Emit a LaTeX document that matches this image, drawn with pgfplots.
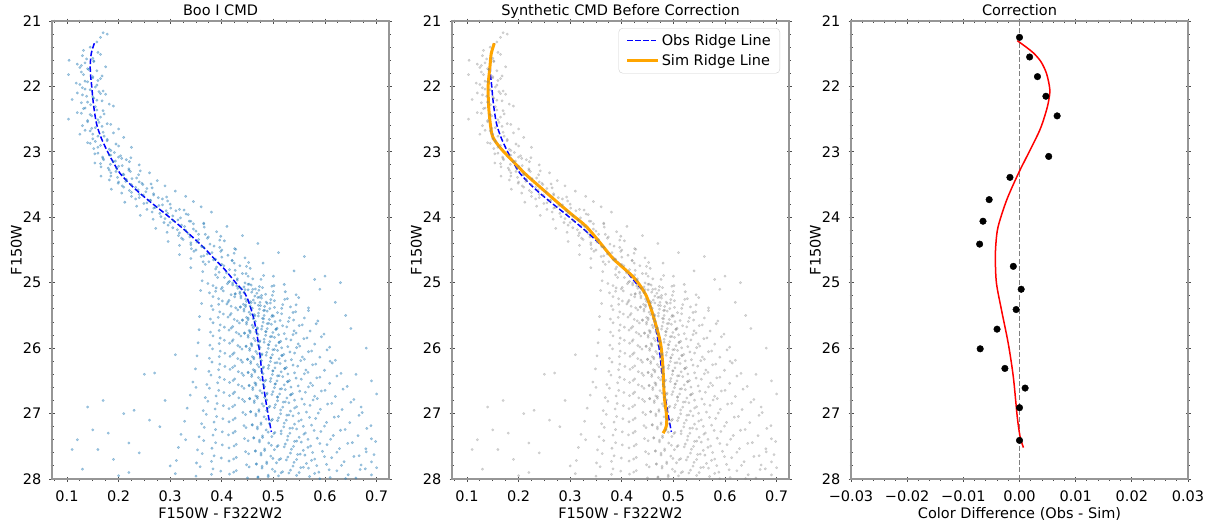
\documentclass[border=0pt]{standalone}
\usepackage{fontspec}
\setmainfont{DejaVu Sans}
\usepackage{pgfplots}
\usepackage{pgfplotstable}
\pgfplotsset{compat=1.18}
\definecolor{tabblue}{RGB}{31,119,180}
\definecolor{spine}{RGB}{150,150,150}
\definecolor{mplorange}{RGB}{255,165,0}

\pgfplotstableread{
x y
0.170 21.18
0.178 21.20
0.165 21.25
0.158 21.32
0.145 21.40
0.132 21.45
0.160 21.48
0.104 21.60
0.138 21.58
0.152 21.62
0.120 21.66
0.175 21.70
0.142 21.74
0.128 21.78
0.103 21.82
0.150 21.85
0.165 21.88
0.135 21.92
0.118 21.95
0.158 21.98
0.130 22.02
0.145 22.05
0.162 22.08
0.120 22.10
0.175 22.12
0.138 22.15
0.152 22.18
0.110 22.20
0.168 22.22
0.128 22.25
0.146 22.28
0.190 22.30
0.135 22.33
0.158 22.36
0.120 22.40
0.172 22.42
0.148 22.45
0.103 22.50
0.140 22.52
0.162 22.55
0.185 22.58
0.130 22.60
0.155 22.63
0.200 22.65
0.145 22.68
0.170 22.70
0.125 22.73
0.160 22.76
0.210 22.78
0.150 22.80
0.178 22.83
0.140 22.86
0.195 22.88
0.165 22.90
0.225 22.93
0.152 22.95
0.185 22.98
0.130 21.53
0.150 21.57
0.165 21.51
0.135 21.64
0.152 21.61
0.128 21.68
0.140 21.73
0.158 21.76
0.125 21.71
0.132 21.82
0.150 21.87
0.168 21.84
0.140 21.93
0.125 21.97
0.160 21.91
0.135 22.04
0.155 22.01
0.170 22.07
0.130 22.13
0.150 22.16
0.165 22.11
0.140 22.24
0.158 22.21
0.182 22.27
0.132 22.34
0.155 22.31
0.170 22.37
0.145 22.43
0.165 22.47
0.128 22.41
0.140 22.54
0.160 22.51
0.178 22.57
0.148 22.64
0.168 22.61
0.135 22.67
0.150 22.73
0.172 22.76
0.190 22.71
0.155 22.84
0.178 22.81
0.145 22.87
0.160 22.93
0.182 22.96
0.200 22.91
0.160 23.02
0.185 23.05
0.200 23.08
0.170 23.10
0.215 23.12
0.190 23.15
0.165 23.18
0.240 23.20
0.200 23.22
0.180 23.25
0.220 23.28
0.195 23.30
0.260 23.32
0.210 23.35
0.185 23.37
0.235 23.40
0.215 23.42
0.275 23.44
0.200 23.46
0.245 23.48
0.225 23.50
0.290 23.52
0.210 23.54
0.255 23.56
0.238 23.58
0.310 23.60
0.225 23.62
0.268 23.64
0.248 23.66
0.330 23.68
0.240 23.70
0.285 23.72
0.262 23.74
0.345 23.76
0.255 23.78
0.300 23.80
0.278 23.82
0.360 23.84
0.268 23.86
0.318 23.88
0.292 23.90
0.380 23.92
0.280 23.94
0.335 23.96
0.305 23.98
0.154 23.03
0.169 23.08
0.182 23.05
0.192 23.01
0.204 23.06
0.224 23.09
0.154 23.17
0.171 23.12
0.184 23.19
0.194 23.14
0.206 23.10
0.221 23.15
0.166 23.23
0.182 23.28
0.196 23.25
0.207 23.21
0.220 23.26
0.242 23.29
0.166 23.37
0.185 23.32
0.198 23.39
0.209 23.34
0.223 23.30
0.239 23.35
0.182 23.43
0.199 23.48
0.214 23.45
0.226 23.41
0.240 23.46
0.263 23.49
0.186 23.57
0.207 23.52
0.221 23.59
0.233 23.54
0.247 23.50
0.265 23.55
0.206 23.63
0.225 23.68
0.240 23.65
0.253 23.61
0.268 23.66
0.293 23.69
0.212 23.77
0.233 23.72
0.249 23.79
0.261 23.74
0.277 23.70
0.295 23.75
0.235 23.83
0.255 23.88
0.271 23.85
0.285 23.81
0.301 23.86
0.327 23.89
0.242 23.97
0.265 23.92
0.282 23.99
0.295 23.94
0.311 23.90
0.331 23.95
0.290 24.02
0.315 24.04
0.340 24.06
0.300 24.08
0.365 24.10
0.322 24.12
0.410 24.14
0.305 24.16
0.345 24.18
0.330 24.20
0.390 24.22
0.318 24.24
0.355 24.26
0.440 24.28
0.338 24.30
0.372 24.32
0.325 24.34
0.405 24.36
0.352 24.38
0.470 24.40
0.340 24.42
0.385 24.44
0.365 24.46
0.425 24.48
0.350 24.50
0.398 24.52
0.510 24.54
0.372 24.56
0.412 24.58
0.360 24.60
0.445 24.62
0.388 24.64
0.420 24.66
0.375 24.68
0.480 24.70
0.400 24.72
0.435 24.74
0.390 24.76
0.455 24.78
0.415 24.80
0.540 24.82
0.395 24.84
0.440 24.86
0.425 24.88
0.500 24.90
0.405 24.92
0.460 24.94
0.430 24.96
0.415 24.98
0.267 24.03
0.288 24.08
0.306 24.05
0.320 24.01
0.337 24.06
0.365 24.09
0.272 24.17
0.296 24.12
0.314 24.19
0.328 24.14
0.345 24.10
0.366 24.15
0.294 24.23
0.316 24.28
0.335 24.25
0.350 24.21
0.368 24.26
0.398 24.29
0.296 24.37
0.322 24.32
0.340 24.39
0.355 24.34
0.374 24.30
0.396 24.35
0.318 24.43
0.341 24.48
0.361 24.45
0.377 24.41
0.396 24.46
0.427 24.49
0.318 24.57
0.346 24.52
0.365 24.59
0.381 24.54
0.400 24.50
0.424 24.55
0.340 24.63
0.364 24.68
0.384 24.65
0.400 24.61
0.420 24.66
0.452 24.69
0.340 24.77
0.368 24.72
0.388 24.79
0.404 24.74
0.424 24.70
0.448 24.75
0.363 24.83
0.388 24.88
0.409 24.85
0.426 24.81
0.447 24.86
0.481 24.89
0.362 24.97
0.392 24.92
0.413 24.99
0.430 24.94
0.451 24.90
0.476 24.95
0.373 25.012
0.401 25.071
0.421 25.033
0.437 25.089
0.453 25.021
0.473 25.058
0.501 25.044
0.389 25.079
0.429 25.050
0.445 25.004
0.465 25.096
0.521 25.027
0.359 25.118
0.418 25.183
0.435 25.141
0.451 25.109
0.468 25.162
0.498 25.192
0.388 25.130
0.426 25.168
0.443 25.152
0.460 25.101
0.485 25.177
0.523 25.138
0.383 25.212
0.414 25.271
0.437 25.233
0.455 25.289
0.473 25.221
0.495 25.258
0.527 25.244
0.401 25.279
0.446 25.250
0.464 25.204
0.486 25.296
0.549 25.227
0.361 25.318
0.427 25.383
0.446 25.341
0.464 25.309
0.483 25.362
0.516 25.392
0.394 25.330
0.436 25.368
0.455 25.352
0.474 25.301
0.502 25.377
0.544 25.338
0.383 25.412
0.418 25.471
0.443 25.433
0.463 25.489
0.483 25.421
0.508 25.458
0.543 25.444
0.403 25.479
0.453 25.450
0.473 25.404
0.498 25.496
0.568 25.427
0.357 25.518
0.430 25.583
0.451 25.541
0.471 25.509
0.492 25.562
0.529 25.592
0.393 25.530
0.440 25.568
0.461 25.552
0.482 25.501
0.513 25.577
0.560 25.538
0.383 25.612
0.421 25.671
0.448 25.633
0.469 25.689
0.491 25.621
0.518 25.658
0.556 25.644
0.405 25.679
0.459 25.650
0.480 25.604
0.507 25.696
0.583 25.627
0.356 25.718
0.433 25.783
0.455 25.741
0.477 25.709
0.499 25.762
0.538 25.792
0.395 25.730
0.444 25.768
0.466 25.752
0.488 25.701
0.521 25.777
0.571 25.738
0.383 25.812
0.422 25.871
0.451 25.833
0.474 25.889
0.497 25.821
0.525 25.858
0.565 25.844
0.405 25.879
0.462 25.850
0.485 25.804
0.514 25.896
0.593 25.827
0.354 25.918
0.435 25.983
0.458 25.941
0.482 25.909
0.505 25.962
0.545 25.992
0.395 25.930
0.447 25.968
0.470 25.952
0.493 25.901
0.528 25.977
0.580 25.938
0.382 26.012
0.424 26.071
0.454 26.033
0.478 26.089
0.502 26.021
0.532 26.058
0.574 26.044
0.406 26.079
0.466 26.050
0.490 26.004
0.520 26.096
0.604 26.027
0.352 26.118
0.437 26.183
0.462 26.141
0.486 26.109
0.511 26.162
0.553 26.192
0.395 26.130
0.450 26.168
0.474 26.152
0.498 26.101
0.535 26.177
0.590 26.138
0.381 26.212
0.425 26.271
0.456 26.233
0.481 26.289
0.507 26.221
0.538 26.258
0.582 26.244
0.406 26.279
0.469 26.250
0.494 26.204
0.525 26.296
0.614 26.227
0.349 26.318
0.439 26.383
0.464 26.341
0.490 26.309
0.515 26.362
0.560 26.392
0.394 26.330
0.451 26.368
0.477 26.352
0.503 26.301
0.541 26.377
0.599 26.338
0.379 26.412
0.425 26.471
0.458 26.433
0.485 26.489
0.511 26.421
0.544 26.458
0.590 26.444
0.405 26.479
0.471 26.450
0.498 26.404
0.531 26.496
0.623 26.427
0.344 26.518
0.439 26.583
0.466 26.541
0.494 26.509
0.521 26.562
0.568 26.592
0.392 26.530
0.453 26.568
0.480 26.552
0.507 26.501
0.548 26.577
0.609 26.538
0.376 26.612
0.425 26.671
0.460 26.633
0.488 26.689
0.516 26.621
0.551 26.658
0.600 26.644
0.404 26.679
0.474 26.650
0.502 26.604
0.537 26.696
0.635 26.627
0.339 26.718
0.440 26.783
0.469 26.741
0.497 26.709
0.526 26.762
0.577 26.792
0.389 26.730
0.454 26.768
0.483 26.752
0.512 26.701
0.555 26.777
0.620 26.738
0.373 26.812
0.425 26.871
0.463 26.833
0.493 26.889
0.523 26.821
0.560 26.858
0.613 26.844
0.403 26.879
0.478 26.850
0.508 26.804
0.545 26.896
0.650 26.827
0.333 26.918
0.441 26.983
0.472 26.941
0.502 26.909
0.533 26.962
0.587 26.992
0.387 26.930
0.456 26.968
0.487 26.952
0.518 26.901
0.564 26.977
0.633 26.938
0.370 27.012
0.426 27.071
0.466 27.033
0.498 27.089
0.530 27.021
0.570 27.058
0.626 27.044
0.402 27.079
0.482 27.050
0.514 27.004
0.554 27.096
0.666 27.027
0.328 27.118
0.443 27.183
0.476 27.141
0.508 27.109
0.541 27.162
0.599 27.192
0.385 27.130
0.459 27.168
0.492 27.152
0.525 27.101
0.574 27.177
0.648 27.138
0.366 27.212
0.426 27.271
0.469 27.233
0.503 27.289
0.537 27.221
0.579 27.258
0.639 27.244
0.401 27.279
0.486 27.250
0.520 27.204
0.562 27.296
0.681 27.227
0.321 27.318
0.444 27.383
0.479 27.341
0.515 27.309
0.550 27.362
0.611 27.392
0.383 27.330
0.462 27.368
0.497 27.352
0.532 27.301
0.585 27.377
0.664 27.338
0.365 27.412
0.428 27.471
0.473 27.433
0.509 27.489
0.545 27.421
0.590 27.458
0.653 27.444
0.401 27.479
0.491 27.450
0.527 27.404
0.572 27.496
0.698 27.427
0.316 27.518
0.446 27.583
0.483 27.541
0.521 27.509
0.558 27.562
0.623 27.592
0.381 27.530
0.465 27.568
0.502 27.552
0.539 27.501
0.595 27.577
0.679 27.538
0.362 27.612
0.428 27.671
0.476 27.633
0.514 27.689
0.552 27.621
0.599 27.658
0.666 27.644
0.399 27.679
0.495 27.650
0.533 27.604
0.580 27.696
0.695 27.627
0.312 27.718
0.448 27.783
0.487 27.741
0.525 27.709
0.564 27.762
0.632 27.792
0.380 27.730
0.467 27.768
0.506 27.752
0.545 27.701
0.603 27.777
0.690 27.738
0.358 27.812
0.428 27.871
0.478 27.833
0.518 27.889
0.558 27.821
0.608 27.858
0.678 27.844
0.398 27.879
0.498 27.850
0.538 27.804
0.588 27.896
0.700 27.827
0.310 27.918
0.450 27.983
0.490 27.941
0.530 27.909
0.570 27.962
0.640 27.992
0.380 27.930
0.470 27.968
0.510 27.952
0.550 27.901
0.610 27.977
0.690 27.938
0.383 25.045
0.411 25.015
0.431 25.085
0.443 25.065
0.457 25.035
0.479 25.075
0.399 25.095
0.451 25.025
0.497 25.055
0.421 25.005
0.376 25.155
0.403 25.125
0.426 25.175
0.445 25.105
0.458 25.145
0.477 25.195
0.500 25.135
0.435 25.165
0.472 25.115
0.544 25.185
0.394 25.245
0.425 25.215
0.448 25.285
0.461 25.265
0.477 25.235
0.502 25.275
0.412 25.295
0.470 25.225
0.522 25.255
0.437 25.205
0.380 25.355
0.410 25.325
0.436 25.375
0.457 25.305
0.471 25.345
0.493 25.395
0.518 25.335
0.446 25.365
0.488 25.315
0.568 25.385
0.396 25.445
0.431 25.415
0.456 25.485
0.471 25.465
0.488 25.435
0.516 25.475
0.416 25.495
0.481 25.425
0.538 25.455
0.443 25.405
0.378 25.555
0.412 25.525
0.440 25.575
0.464 25.505
0.479 25.545
0.503 25.595
0.531 25.535
0.451 25.565
0.497 25.515
0.586 25.585
0.397 25.645
0.434 25.615
0.461 25.685
0.478 25.665
0.496 25.635
0.526 25.675
0.418 25.695
0.488 25.625
0.550 25.655
0.448 25.605
0.378 25.755
0.414 25.725
0.444 25.775
0.469 25.705
0.485 25.745
0.510 25.795
0.540 25.735
0.455 25.765
0.505 25.715
0.598 25.785
0.397 25.845
0.437 25.815
0.465 25.885
0.482 25.865
0.502 25.835
0.534 25.875
0.420 25.895
0.494 25.825
0.559 25.855
0.451 25.805
0.377 25.955
0.415 25.925
0.447 25.975
0.473 25.905
0.490 25.945
0.516 25.995
0.548 25.935
0.458 25.965
0.511 25.915
0.609 25.985
0.397 26.045
0.439 26.015
0.469 26.085
0.487 26.065
0.508 26.035
0.541 26.075
0.421 26.095
0.499 26.025
0.568 26.055
0.454 26.005
0.376 26.155
0.416 26.125
0.450 26.175
0.477 26.105
0.495 26.145
0.523 26.195
0.556 26.135
0.462 26.165
0.517 26.115
0.620 26.185
0.396 26.245
0.440 26.215
0.472 26.285
0.491 26.265
0.513 26.235
0.547 26.275
0.421 26.295
0.503 26.225
0.576 26.255
0.456 26.205
0.375 26.355
0.416 26.325
0.451 26.375
0.480 26.305
0.499 26.345
0.528 26.395
0.563 26.335
0.464 26.365
0.522 26.315
0.631 26.385
0.396 26.445
0.442 26.415
0.475 26.485
0.495 26.465
0.518 26.435
0.554 26.475
0.422 26.495
0.508 26.425
0.584 26.455
0.458 26.405
0.371 26.555
0.415 26.525
0.453 26.575
0.483 26.505
0.504 26.545
0.534 26.595
0.572 26.535
0.466 26.565
0.528 26.515
0.643 26.585
0.394 26.645
0.443 26.615
0.478 26.685
0.499 26.665
0.523 26.635
0.562 26.675
0.422 26.695
0.513 26.625
0.593 26.655
0.460 26.605
0.368 26.755
0.415 26.725
0.454 26.775
0.487 26.705
0.508 26.745
0.541 26.795
0.580 26.735
0.469 26.765
0.533 26.715
0.656 26.785
0.391 26.845
0.444 26.815
0.481 26.885
0.504 26.865
0.530 26.835
0.571 26.875
0.421 26.895
0.519 26.825
0.605 26.855
0.463 26.805
0.364 26.955
0.414 26.925
0.456 26.975
0.491 26.905
0.514 26.945
0.549 26.995
0.591 26.935
0.472 26.965
0.541 26.915
0.672 26.985
0.390 27.045
0.446 27.015
0.486 27.085
0.510 27.065
0.538 27.035
0.582 27.075
0.422 27.095
0.526 27.025
0.618 27.055
0.466 27.005
0.361 27.155
0.414 27.125
0.459 27.175
0.496 27.105
0.521 27.145
0.558 27.195
0.603 27.135
0.476 27.165
0.549 27.115
0.689 27.185
0.388 27.245
0.447 27.215
0.490 27.285
0.515 27.265
0.545 27.235
0.592 27.275
0.422 27.295
0.532 27.225
0.630 27.255
0.469 27.205
0.356 27.355
0.413 27.325
0.462 27.375
0.501 27.305
0.528 27.345
0.567 27.395
0.616 27.335
0.479 27.365
0.559 27.315
0.690 27.385
0.388 27.445
0.451 27.415
0.496 27.485
0.523 27.465
0.554 27.435
0.604 27.475
0.424 27.495
0.541 27.425
0.644 27.455
0.473 27.405
0.353 27.555
0.414 27.525
0.465 27.575
0.507 27.505
0.535 27.545
0.576 27.595
0.628 27.535
0.483 27.565
0.567 27.515
0.680 27.585
0.385 27.645
0.452 27.615
0.499 27.685
0.528 27.665
0.561 27.635
0.613 27.675
0.423 27.695
0.547 27.625
0.656 27.655
0.476 27.605
0.351 27.755
0.414 27.725
0.467 27.775
0.511 27.705
0.540 27.745
0.584 27.795
0.637 27.735
0.487 27.765
0.574 27.715
0.670 27.785
0.383 27.845
0.453 27.815
0.503 27.885
0.533 27.865
0.568 27.835
0.623 27.875
0.423 27.895
0.553 27.825
0.668 27.855
0.478 27.805
0.350 27.955
0.415 27.925
0.470 27.975
0.515 27.905
0.545 27.945
0.590 27.995
0.645 27.935
0.490 27.965
0.580 27.915
0.660 27.985
0.418 25.36
0.442 25.33
0.459 25.39
0.475 25.35
0.494 25.31
0.533 25.37
0.424 25.56
0.448 25.53
0.465 25.59
0.481 25.55
0.500 25.51
0.539 25.57
0.428 25.76
0.453 25.73
0.470 25.79
0.486 25.75
0.505 25.71
0.544 25.77
0.431 25.96
0.457 25.93
0.474 25.99
0.491 25.95
0.511 25.91
0.551 25.97
0.431 26.16
0.459 26.13
0.477 26.19
0.495 26.15
0.516 26.11
0.560 26.17
0.432 26.36
0.461 26.33
0.480 26.39
0.499 26.35
0.522 26.31
0.567 26.37
0.432 26.56
0.464 26.53
0.483 26.59
0.503 26.55
0.527 26.51
0.576 26.57
0.433 26.76
0.466 26.73
0.487 26.79
0.508 26.75
0.534 26.71
0.585 26.77
0.120 27.40
0.110 27.55
0.130 27.85
0.140 26.90
0.160 27.55
0.180 27.30
0.190 27.70
0.210 27.00
0.220 27.90
0.240 27.60
0.250 26.40
0.270 26.38
0.280 27.20
0.300 27.80
0.310 26.10
0.220 27.45
0.260 27.10
0.330 27.40
0.290 26.80
0.200 27.95
0.150 27.25
0.350 26.60
0.170 26.80
0.230 26.95
0.620 25.30
0.630 25.00
0.650 25.70
0.680 26.00
0.660 26.40
0.640 25.50
0.600 24.90
0.700 26.70
0.670 26.90
0.580 24.95
0.560 24.60
0.590 25.10
0.610 26.20
0.690 26.50
}\cloud

\pgfplotstableread{
x y
0.153 21.34
0.147 21.50
0.145 21.70
0.146 21.85
0.148 22.00
0.151 22.25
0.157 22.56
0.166 22.78
0.177 22.97
0.189 23.15
0.203 23.33
0.223 23.50
0.244 23.65
0.267 23.80
0.291 23.95
0.317 24.12
0.343 24.30
0.366 24.47
0.385 24.63
0.406 24.80
0.428 25.01
0.440 25.11
0.448 25.21
0.455 25.36
0.461 25.52
0.466 25.70
0.470 25.88
0.474 26.10
0.477 26.33
0.480 26.51
0.483 26.69
0.489 26.98
0.496 27.28
}\obsridge

\pgfplotstableread{
x y
0.153 21.34
0.147 21.50
0.1445 21.70
0.141 22.00
0.1425 22.36
0.148 22.72
0.156 22.85
0.168 22.97
0.180 23.07
0.196 23.20
0.212 23.33
0.226 23.43
0.252 23.61
0.278 23.79
0.305 23.97
0.331 24.14
0.357 24.38
0.383 24.63
0.404 24.78
0.422 24.91
0.436 25.05
0.448 25.21
0.458 25.43
0.467 25.67
0.473 25.85
0.477 26.03
0.480 26.33
0.481 26.55
0.483 26.79
0.487 27.05
0.486 27.20
0.480 27.30
}\simridge

\pgfplotstableread{
x y
0.0000 21.25
0.0018 21.55
0.0032 21.85
0.0047 22.15
0.0067 22.45
0.0052 23.07
-0.0017 23.39
-0.0054 23.73
-0.0065 24.06
-0.0071 24.41
-0.0011 24.75
0.0003 25.10
-0.0006 25.41
-0.0040 25.71
-0.0070 26.01
-0.0026 26.31
0.0010 26.61
0.0000 26.91
0.0000 27.41
}\diffpts

\pgfplotstableread{
x y
-0.0004 21.30
0.0012 21.40
0.0025 21.49
0.0038 21.62
0.0048 21.80
0.0054 22.05
0.0051 22.26
0.0045 22.45
0.0036 22.67
0.0019 22.97
-0.0002 23.33
-0.0023 23.74
-0.0038 24.14
-0.0042 24.40
-0.0043 24.65
-0.0041 25.01
-0.0032 25.42
-0.0020 25.93
-0.0011 26.44
-0.0004 27.05
0.0001 27.35
0.0007 27.52
}\fitcurve

\pgfplotsset{
  cmdpanel/.style={
    scale only axis, width=337pt, height=458pt,
    anchor=south west,
    y dir=reverse, ymin=21, ymax=28,
    ytick={21,22,23,24,25,26,27,28},
    minor ytick={21,21.2,...,28},
    axis line style={spine, line width=1.4pt},
    every tick/.style={black!70, line width=0.9pt},
    major tick length=5pt, minor tick length=3pt,
    tick align=center,
    /pgf/number format/assume math mode=true,
    xticklabel style={anchor=base, yshift=-20pt, inner sep=0pt},
    yticklabel style={anchor=east, xshift=-8pt, inner sep=0pt},
    title style={at={(axis description cs:0.5,1)}, anchor=base, yshift=0pt, inner sep=0pt},
    xlabel style={at={(axis description cs:0.5,0)}, anchor=base, yshift=-39pt, inner sep=0pt},
    ylabel style={at={(axis description cs:-0.089,0.5)}, anchor=south, rotate=0, inner sep=0pt},
    ylabel={F150W},
    scaled x ticks=false,
  },
  colorpanel/.style={
    xmin=0.071, xmax=0.724,
    xtick={0.1,0.2,0.3,0.4,0.5,0.6,0.7},
    xticklabels={0.1,0.2,0.3,0.4,0.5,0.6,0.7},
    minor xtick={0.075,0.1,...,0.725},
    xlabel={F150W - F322W2},
  }
}

\begin{document}
\begin{tikzpicture}[font=\fontsize{14.5}{17}\selectfont]
\path[use as bounding box] (0pt,0pt) rectangle (1213pt,522pt);

\begin{axis}[cmdpanel, colorpanel, at={(52pt,43pt)}, title={Boo I CMD}]
\addplot[only marks, mark=*, mark size=1.25pt, color=tabblue,
  mark options={draw=tabblue, fill=tabblue, opacity=0.38}] table {\cloud};
\addplot[blue, line width=1.5pt, dash pattern=on 5.5pt off 2.4pt, smooth] table {\obsridge};
\end{axis}

\begin{axis}[cmdpanel, colorpanel, at={(452pt,43pt)}, title={Synthetic CMD Before Correction},
  legend style={at={(axis description cs:1,1)}, anchor=north east, xshift=-9pt, yshift=-7pt,
    draw=black!18, rounded corners=4pt, inner xsep=7pt, inner ysep=4pt, row sep=4pt,
    font=\fontsize{14.5}{17}\selectfont},
  legend cell align=left,
  legend image code/.code={\draw[#1] (0pt,0pt) -- (31pt,0pt);}]
\addplot[forget plot, only marks, mark=*, mark size=1.25pt, color=gray,
  mark options={draw=gray, fill=gray, opacity=0.3}] table {\cloud};
\addplot[color=blue, line width=1.5pt, dash pattern=on 5.5pt off 2.4pt, smooth] table {\obsridge};
\addlegendentry{Obs Ridge Line}
\addplot[color=mplorange, line width=3pt, smooth] table {\simridge};
\addlegendentry{Sim Ridge Line}
\end{axis}

\begin{axis}[cmdpanel, at={(851pt,43pt)}, title={Correction},
  xmin=-0.03, xmax=0.03,
  xtick={-0.03,-0.02,-0.01,0,0.01,0.02,0.03},
  xticklabels={−0.03,−0.02,−0.01,0.00,0.01,0.02,0.03},
  minor xtick={-0.03,-0.028,...,0.03},
  xlabel={Color Difference (Obs - Sim)}]
\addplot[gray, line width=1.2pt, dash pattern=on 5pt off 2.2pt] coordinates {(0,21) (0,28)};
\addplot[only marks, mark=*, mark size=3.3pt, black] table {\diffpts};
\addplot[red, line width=1.5pt, smooth] table {\fitcurve};
\end{axis}
\end{tikzpicture}
\end{document}
